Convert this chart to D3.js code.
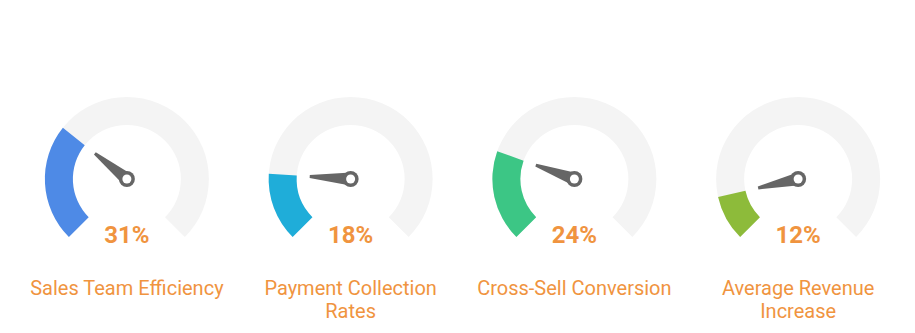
<!DOCTYPE html>
<html>
<head>
<meta charset="utf-8">
<script src="https://cdn.jsdelivr.net/npm/d3@7/dist/d3.min.js"></script>
<style>
  html, body { margin: 0; padding: 0; background: #ffffff; }
  svg { display: block; font-family: Roboto, "Noto Sans", sans-serif; }
</style>
</head>
<body>
<svg id="chart" width="915" height="333"></svg>
<script>
// KPI gauges: one dial per metric, value in percent
const categories = ["Sales Team Efficiency", "Payment Collection Rates", "Cross-Sell Conversion", "Average Revenue Increase"];
const values = [31, 18, 24, 12];
const colors = ["#4e8ae6", "#1fadd9", "#3cc685", "#8dbb3a"];

const width = 915, height = 333;
const svg = d3.select("#chart");

const x = d3.scaleBand().domain(categories).range([15, 910]);
const angle = d3.scaleLinear().domain([0, 100]).range([-135 * Math.PI / 180, 135 * Math.PI / 180]);

const cy = 179, outerR = 82, innerR = 54, needleLen = 41;
const textColor = "#f0943f";

const arc = d3.arc().innerRadius(innerR).outerRadius(outerR);

const g = svg.selectAll("g.gauge")
  .data(categories.map((c, i) => ({ name: c, value: values[i], color: colors[i] })))
  .join("g")
  .attr("class", "gauge")
  .attr("transform", d => `translate(${x(d.name) + x.bandwidth() / 2},${cy})`);

// background track
g.append("path")
  .attr("d", arc({ startAngle: angle(0), endAngle: angle(100) }))
  .attr("fill", "#f4f4f4");

// value arc
g.append("path")
  .attr("d", d => arc({ startAngle: angle(0), endAngle: angle(d.value) }))
  .attr("fill", d => d.color);

// needle
g.append("path")
  .attr("fill", "#666666")
  .attr("d", d => {
    const a = angle(d.value);
    const ux = Math.sin(a), uy = -Math.cos(a);
    const px = -uy, py = ux;
    const bw = 6.5, tw = 1.5;
    const p = d3.path();
    p.moveTo(px * bw, py * bw);
    p.lineTo(ux * needleLen + px * tw, uy * needleLen + py * tw);
    p.lineTo(ux * needleLen - px * tw, uy * needleLen - py * tw);
    p.lineTo(-px * bw, -py * bw);
    p.closePath();
    return p.toString();
  });

g.append("circle").attr("r", 8).attr("fill", "#666666");
g.append("circle").attr("r", 4.5).attr("fill", "#ffffff");

// value label
g.append("text")
  .attr("y", 243 - cy)
  .attr("text-anchor", "middle")
  .attr("font-size", 24)
  .attr("font-weight", 700)
  .attr("fill", textColor)
  .text(d => d.value + "%");

// category label, wrapped to fit the column
const labels = g.append("text")
  .attr("y", 295 - cy)
  .attr("text-anchor", "middle")
  .attr("font-size", 20)
  .attr("fill", textColor);

labels.each(function(d) {
  const t = d3.select(this);
  const words = d.name.split(" ");
  const maxW = 205;
  let line = [];
  let lineNo = 0;
  let tspan = t.append("tspan").attr("x", 0).attr("dy", 0);
  words.forEach(w => {
    line.push(w);
    tspan.text(line.join(" "));
    if (tspan.node().getComputedTextLength() > maxW && line.length > 1) {
      line.pop();
      tspan.text(line.join(" "));
      line = [w];
      lineNo++;
      tspan = t.append("tspan").attr("x", 0).attr("dy", 23).text(w);
    }
  });
});
</script>
</body>
</html>
